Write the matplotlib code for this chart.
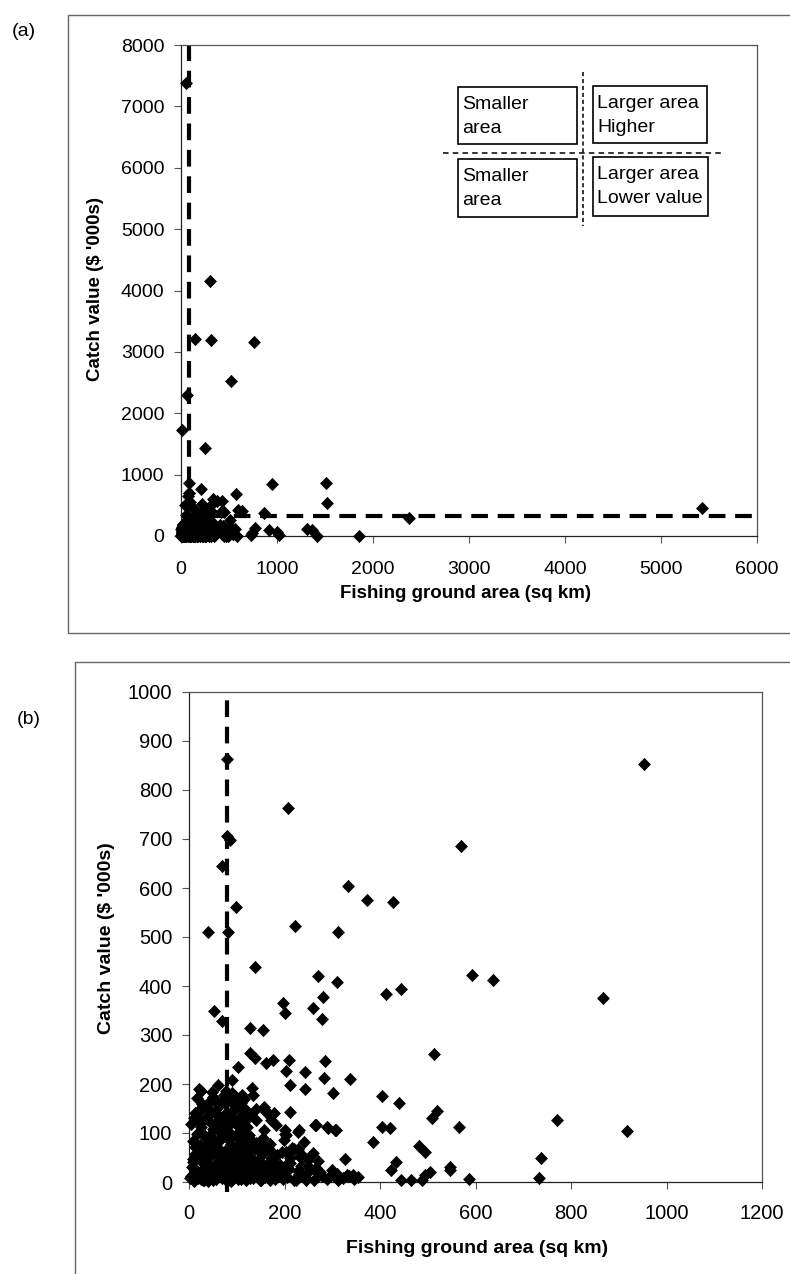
import matplotlib
matplotlib.use('Agg')
import matplotlib.pyplot as plt
from matplotlib.patches import Rectangle
from matplotlib.lines import Line2D

plt.rcParams['font.family'] = ['Liberation Sans', 'DejaVu Sans']
plt.rcParams['lines.scale_dashes'] = False

# ---------------- data (fishing ground area sq km, catch value $'000s) ----------------
# scattered points visible in panel (b)
area_sparse = [79, 79, 86, 70, 98, 40, 82, 208, 222, 311, 332, 373, 427, 569, 952, 593, 637, 867,
               513, 139, 271, 309, 412, 445, 196, 200, 259, 280, 279, 52, 70, 128, 156, 128, 138,
               162, 176, 102, 91, 210, 203, 243, 285, 282, 338, 211, 243, 302, 405, 440, 405, 420,
               386, 326, 433, 424, 266, 289, 307, 211, 229, 202, 508, 520, 566, 771, 918, 482, 494,
               738, 546, 546, 504, 494, 487, 464, 445, 586, 734]
value_sparse = [864, 706, 698, 645, 561, 510, 510, 763, 522, 511, 605, 575, 571, 686, 853, 423, 412, 376,
                261, 439, 420, 408, 384, 393, 365, 345, 355, 377, 333, 348, 328, 314, 310, 263, 253,
                243, 248, 234, 209, 249, 227, 224, 247, 212, 210, 197, 190, 181, 176, 162, 113, 110,
                82, 47, 40, 25, 117, 113, 107, 142, 103, 97, 130, 144, 113, 127, 105, 74, 62,
                50, 31, 25, 21, 15, 4, 4, 5, 7, 9]

# moderately dense points (small areas, values below ~200)
area_mid = [26, 61, 51, 72, 82, 93, 110, 131, 134, 141, 158, 164, 178, 20, 40, 23, 61, 72, 86, 110,
            128, 141, 162, 172, 183, 158, 200, 204, 263, 291, 305, 230, 125, 106, 134, 155, 169, 152,
            138, 120, 204, 228, 232, 249, 211, 169, 190, 131, 152, 274, 298, 309, 330, 344, 246, 225,
            197, 169, 148, 120, 103, 79, 51, 30, 9]
value_mid = [186, 198, 174, 167, 170, 160, 178, 191, 177, 150, 153, 143, 140, 142, 150, 126, 137, 126, 137, 137,
             137, 126, 143, 126, 116, 106, 106, 96, 116, 111, 106, 106, 95, 89, 82, 75, 65, 58,
             68, 61, 61, 68, 51, 44, 48, 41, 34, 34, 27, 20, 14, 17, 14, 14, 5, 4,
             6, 4, 5, 4, 6, 3, 4, 5, 6]

# very dense cluster near the origin
area_dense = [3, 10, 14, 6, 18, 22, 12, 27, 31, 35, 8, 38, 42, 46, 17, 50, 25, 54, 57, 60, 33, 63, 66,
              44, 70, 73, 48, 76, 78, 82, 55, 85, 88, 62, 91, 94, 68, 97, 100, 103, 80, 106, 109, 112,
              96, 115, 118, 121, 124, 127, 28, 16, 36, 58, 84, 102, 118, 74, 90, 44, 12, 5, 22, 40,
              64, 86, 98, 108, 52, 30, 66, 94, 112, 76, 20, 48, 104, 124, 58, 36, 8, 126, 88, 70,
              135, 142, 150, 158, 165, 172, 180, 188, 195, 205, 212, 220, 228, 236, 245, 252, 262,
              270, 278, 290, 300, 312, 322, 335, 345, 140, 155, 148, 170, 185, 198, 215, 240, 260,
              130, 138, 354, 271, 232, 220]
value_dense = [8, 2, 18, 30, 9, 44, 58, 25, 4, 70, 84, 38, 12, 55, 98, 28, 112, 82, 6, 42, 128, 68, 18,
               96, 32, 110, 118, 52, 12, 88, 140, 26, 64, 156, 8, 40, 102, 120, 20, 72, 142, 48, 6, 100,
               148, 30, 62, 16, 44, 8, 160, 172, 90, 108, 116, 156, 124, 178, 182, 166, 140, 118, 76, 2,
               90, 46, 94, 132, 62, 50, 130, 174, 80, 162, 190, 184, 112, 90, 36, 20, 46, 66, 2, 8,
               8, 20, 5, 35, 12, 48, 6, 25, 62, 10, 38, 4, 22, 55, 8, 30, 4,
               42, 12, 6, 25, 4, 9, 12, 6, 80, 90, 62, 78, 55, 85, 70, 82, 60,
               50, 40, 11, 18, 54, 68]

area_dense2 = [5, 15, 25, 35, 45, 55, 65, 75, 85, 95, 105, 115, 125, 8, 20, 32, 44, 56, 68, 80, 92, 104,
               116, 12, 28, 40, 52, 64, 76, 88, 100, 112, 124, 18, 34, 50, 66, 82, 98, 114, 10, 26, 42,
               58, 74, 90, 106, 122, 24, 46, 60, 84, 100, 118, 140, 160, 180, 200, 150, 170, 190, 210,
               230, 250, 145, 175, 205, 235, 265, 86, 96, 108, 78, 116]
value_dense2 = [12, 24, 6, 18, 30, 22, 14, 26, 10, 34, 16, 22, 28, 40, 52, 46, 60, 36, 48, 56, 44, 58,
                38, 72, 66, 80, 74, 86, 64, 78, 70, 86, 76, 100, 94, 108, 90, 104, 96, 88, 130, 120, 136,
                124, 116, 128, 122, 112, 150, 144, 160, 132, 166, 150, 15, 10, 18, 12, 30, 28, 22, 26,
                16, 20, 45, 40, 36, 32, 28, 168, 176, 162, 186, 170]

# points only inside the full-range panel (a)
area_large = [56, 300, 142, 317, 764, 516, 63, 14, 255, 1510, 1518, 2377, 5431, 1850, 1364, 1312, 1417, 1016, 998]
value_large = [7383, 4153, 3204, 3192, 3155, 2529, 2296, 1726, 1428, 858, 542, 288, 461, 5, 98, 110, 8, 15, 60]

area_threshold = 80
value_threshold = 330

xticks_a = [0, 1000, 2000, 3000, 4000, 5000, 6000]
yticks_a = [0, 1000, 2000, 3000, 4000, 5000, 6000, 7000, 8000]
xticks_b = [0, 200, 400, 600, 800, 1000, 1200]
yticks_b = [0, 100, 200, 300, 400, 500, 600, 700, 800, 900, 1000]

quadrant_labels = ["Smaller\narea", "Larger area\nHigher", "Smaller\narea", "Larger area\nLower value"]

xlabel = "Fishing ground area (sq km)"
ylabel = "Catch value ($ '000s)"

# ---------------- figure ----------------
W, H = 790, 1274
fig = plt.figure(figsize=(W / 100, H / 100), dpi=100)


def fx(x):
    return x / W


def fy(y):
    return 1 - y / H


diamond = [(0, 1), (0.97, 0), (0, -1), (-0.97, 0), (0, 1)]
spine_col = '#555555'

area_b = area_sparse + area_mid + area_dense + area_dense2
value_b = value_sparse + value_mid + value_dense + value_dense2
area_a = area_b + area_large
value_a = value_b + value_large

# outer frames
fig.add_artist(Rectangle((fx(68), fy(633)), (900 - 68) / W, (633 - 15) / H, transform=fig.transFigure,
                         fill=False, ec='#666666', lw=1.0))
fig.add_artist(Rectangle((fx(75), fy(1400)), (900 - 75) / W, (1400 - 662) / H, transform=fig.transFigure,
                         fill=False, ec='#666666', lw=1.0))

axA = fig.add_axes([fx(181), fy(536), (757 - 181) / W, (536 - 45) / H])
axB = fig.add_axes([fx(189), fy(1182), (762 - 189) / W, (1182 - 692) / H])


def style(ax, xt, yt, fs, xpad):
    ax.set_xticks(xt)
    ax.set_yticks(yt)
    ax.set_xticklabels([str(v) for v in xt], fontsize=fs)
    ax.set_yticklabels([str(v) for v in yt], fontsize=fs)
    ax.tick_params(axis='y', direction='out', length=5, width=0.8, color=spine_col, pad=7)
    ax.tick_params(axis='x', direction='out', length=5, width=0.8, color=spine_col, pad=xpad)
    for s in ax.spines.values():
        s.set_color(spine_col)
        s.set_linewidth(0.9)
    ax.spines['left'].set_color('#222222')
    ax.spines['bottom'].set_color('#222222')


# panel (a)
axA.set_xlim(xticks_a[0], xticks_a[-1])
axA.set_ylim(yticks_a[0], yticks_a[-1])
axA.plot([area_threshold, area_threshold], [0, 8000], color='black', lw=3,
         dashes=(12, 7), clip_on=False, zorder=2)
axA.plot([0, 6000], [value_threshold, value_threshold], color='black', lw=3,
         dashes=(12, 7), clip_on=False, zorder=2)
axA.plot(area_a, value_a, linestyle='none', marker=diamond, ms=8.8, color='black',
         mec='black', mew=0.5, clip_on=False, zorder=3)
style(axA, xticks_a, yticks_a, 14, 13)
axA.set_xlabel(xlabel, fontsize=13.5, fontweight='bold')
axA.set_ylabel(ylabel, fontsize=13.5, fontweight='bold')
axA.xaxis.set_label_coords(0.494, -0.100)
axA.yaxis.set_label_coords(-0.134, 0.503)

# panel (b)
axB.set_xlim(xticks_b[0], xticks_b[-1])
axB.set_ylim(yticks_b[0], yticks_b[-1])
axB.plot([area_threshold, area_threshold], [-20, 990], color='black', lw=3,
         dashes=(12, 7), clip_on=False, zorder=2)
axB.plot(area_b, value_b, linestyle='none', marker=diamond, ms=8.8, color='black',
         mec='black', mew=0.5, clip_on=False, zorder=3)
style(axB, xticks_b, yticks_b, 14.5, 11)
axB.set_xlabel(xlabel, fontsize=14, fontweight='bold')
axB.set_ylabel(ylabel, fontsize=14, fontweight='bold')
axB.xaxis.set_label_coords(0.503, -0.119)
axB.yaxis.set_label_coords(-0.129, 0.497)

# panel letters
fig.text(fx(12), fy(31), "(a)", fontsize=14, ha='left', va='center')
fig.text(fx(17), fy(720), "(b)", fontsize=14, ha='left', va='center')

# quadrant annotation in panel (a)
boxes = [(458, 87, 577, 144), (593, 86, 707, 143), (458, 159, 577, 217), (593, 157, 708, 216)]
for (x0, y0, x1, y1), lab in zip(boxes, quadrant_labels):
    fig.add_artist(Rectangle((fx(x0), fy(y1)), (x1 - x0) / W, (y1 - y0) / H, transform=fig.transFigure,
                             fill=False, ec='black', lw=1.2))
    fig.text(fx(x0 + 4), fy(y0 + 9), lab, fontsize=14, ha='left', va='top', linespacing=1.55)
fig.add_artist(Line2D([fx(443), fx(723)], [fy(152.7), fy(152.7)], transform=fig.transFigure,
                      color='black', lw=1.1, dashes=(4, 3)))
fig.add_artist(Line2D([fx(582.5), fx(582.5)], [fy(72), fy(226)], transform=fig.transFigure,
                      color='black', lw=1.1, dashes=(3, 2)))

fig.savefig('out.png', dpi=100)
